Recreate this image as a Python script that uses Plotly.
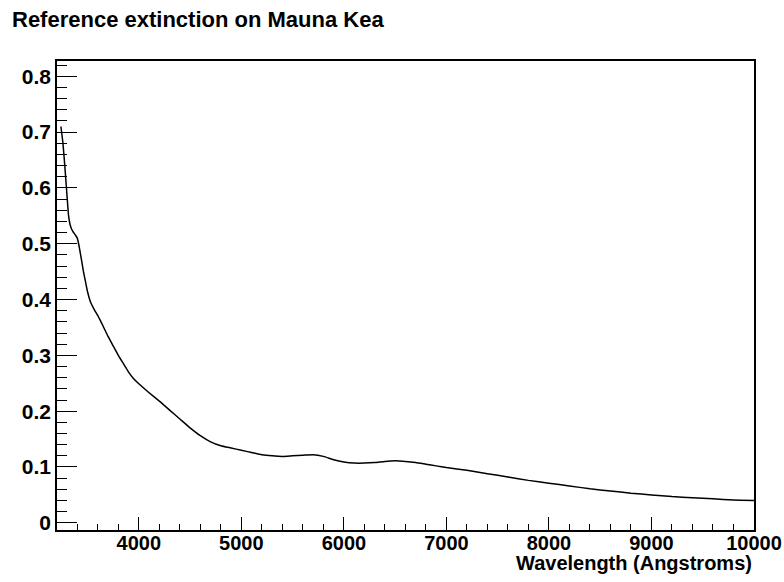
import plotly.graph_objects as go

# Atmospheric extinction curve (mag/airmass) versus wavelength
wavelength = [3240, 3260, 3280, 3300, 3315, 3330, 3345, 3360, 3380, 3400, 3420,
              3440, 3460, 3480, 3500, 3530, 3565, 3600, 3650, 3700, 3750, 3800,
              3850, 3900, 3950, 4000, 4100, 4200, 4300, 4400, 4500, 4600, 4700,
              4800, 4900, 5000, 5100, 5200, 5300, 5400, 5500, 5600, 5700, 5800,
              5900, 6000, 6100, 6200, 6300, 6400, 6500, 6600, 6700, 6800, 6900,
              7000, 7200, 7400, 7600, 7800, 8000, 8200, 8400, 8600, 8800, 9000,
              9200, 9400, 9600, 9800, 10000]
extinction = [0.710, 0.680, 0.635, 0.585, 0.550, 0.534, 0.526, 0.521, 0.516, 0.510, 0.493,
              0.472, 0.450, 0.432, 0.414, 0.395, 0.382, 0.371, 0.353, 0.334, 0.317, 0.300,
              0.285, 0.270, 0.258, 0.249, 0.233, 0.218, 0.202, 0.186, 0.170, 0.156, 0.145,
              0.138, 0.134, 0.130, 0.126, 0.122, 0.120, 0.119, 0.120, 0.121, 0.122, 0.119,
              0.113, 0.109, 0.107, 0.107, 0.108, 0.110, 0.111, 0.110, 0.108, 0.105, 0.102,
              0.099, 0.094, 0.088, 0.082, 0.076, 0.071, 0.066, 0.061, 0.057, 0.053, 0.050,
              0.047, 0.045, 0.043, 0.041, 0.040]

x_range = [3202, 10000]
y_range = [-0.0129, 0.8274]

FONT = "Liberation Sans, Arial, Helvetica, sans-serif"

fig = go.Figure()
fig.add_trace(go.Scatter(
    x=wavelength, y=extinction, mode="lines",
    line=dict(color="black", width=1.5, shape="spline", smoothing=0.5),
    showlegend=False, hoverinfo="x+y",
))

fig.update_layout(
    width=784, height=582,
    margin=dict(l=57, r=30, t=61, b=52, autoexpand=False),
    paper_bgcolor="white", plot_bgcolor="white",
    font=dict(family=FONT, color="black"),
    annotations=[
        dict(text="<b>Reference extinction on Mauna Kea</b>", xref="paper", yref="paper",
             x=-0.0675, y=1.0, yshift=42, xanchor="left", yanchor="middle",
             showarrow=False, font=dict(size=22, family=FONT, color="black")),
        dict(text="<b>Wavelength (Angstroms)</b>", xref="paper", yref="paper",
             x=1.0, y=0.0, yshift=-33, xanchor="right", yanchor="middle",
             showarrow=False, font=dict(size=20, family=FONT, color="black")),
    ],
)

fig.update_xaxes(
    range=x_range, showgrid=False, zeroline=False, automargin=False,
    showline=True, linecolor="black", linewidth=1.5, mirror=True,
    ticks="inside", ticklen=13, tickwidth=1, tickcolor="black",
    tick0=0, dtick=1000, tickformat="d", ticklabelstandoff=-6,
    minor=dict(ticks="inside", ticklen=6, tickwidth=1, tickcolor="black", dtick=200, tick0=0),
    tickfont=dict(size=20, family=FONT, color="black", weight="bold"),
)
fig.update_yaxes(
    range=y_range, showgrid=False, zeroline=False, automargin=False,
    showline=True, linecolor="black", linewidth=1.5, mirror=True,
    ticks="inside", ticklen=20, tickwidth=1, tickcolor="black",
    tick0=0, dtick=0.1,
    minor=dict(ticks="inside", ticklen=10, tickwidth=1, tickcolor="black", dtick=0.02, tick0=0),
    tickfont=dict(size=21, family=FONT, color="black", weight="bold"),
)

fig.write_html("out.html")
